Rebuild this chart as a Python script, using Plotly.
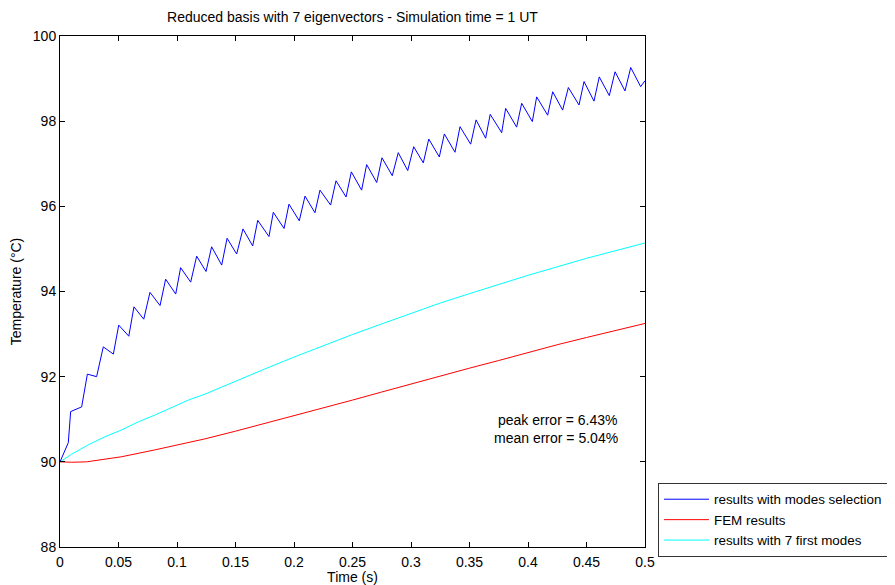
import plotly.graph_objects as go

# ---- data ----
# blue: results with modes selection (start, early rise, then peak/trough sequence)
blue_t = [0.0, 0.0071, 0.0091, 0.0185, 0.0234, 0.0313, 0.0370, 0.0456, 0.0502, 0.0588,
          0.0632, 0.0716, 0.0769, 0.0855, 0.0903, 0.0989, 0.1031, 0.1117, 0.1168, 0.1248,
          0.1296, 0.1382, 0.1428, 0.1510, 0.1564, 0.1647, 0.1690, 0.1786, 0.1823, 0.1915,
          0.1957, 0.2045, 0.2094, 0.2179, 0.2222, 0.2313, 0.2359, 0.2445, 0.2490, 0.2578,
          0.2621, 0.2707, 0.2752, 0.2840, 0.2891, 0.2972, 0.3023, 0.3105, 0.3152, 0.3242,
          0.3285, 0.3376, 0.3419, 0.3510, 0.3556, 0.3638, 0.3677, 0.3775, 0.3809, 0.3903,
          0.3946, 0.4037, 0.4074, 0.4168, 0.4211, 0.4296, 0.4345, 0.4436, 0.4479, 0.4564,
          0.4609, 0.4695, 0.4744, 0.4829, 0.4878, 0.4963, 0.5000]
blue_T = [90.00, 90.45, 91.18, 91.29, 92.06, 92.00, 92.70, 92.53, 93.21, 92.95,
          93.64, 93.35, 93.98, 93.67, 94.29, 93.94, 94.56, 94.22, 94.83, 94.47,
          95.05, 94.62, 95.25, 94.88, 95.47, 95.07, 95.67, 95.29, 95.86, 95.48,
          96.05, 95.66, 96.24, 95.85, 96.38, 96.03, 96.60, 96.22, 96.81, 96.38,
          96.98, 96.56, 97.14, 96.72, 97.26, 96.84, 97.40, 97.02, 97.58, 97.16,
          97.70, 97.27, 97.87, 97.46, 98.03, 97.60, 98.16, 97.73, 98.30, 97.86,
          98.42, 97.99, 98.57, 98.14, 98.69, 98.26, 98.79, 98.38, 98.93, 98.47,
          99.04, 98.60, 99.16, 98.71, 99.26, 98.81, 98.95]

# red: FEM results
fem_t = [0.0, 0.0100, 0.0228, 0.0527, 0.0810, 0.1097, 0.1240, 0.150, 0.175, 0.200,
         0.225, 0.250, 0.275, 0.300, 0.325, 0.350, 0.375, 0.400, 0.425, 0.450,
         0.475, 0.500]
fem_T = [90.00, 89.99, 90.00, 90.12, 90.28, 90.45, 90.54, 90.72, 90.90, 91.08,
         91.26, 91.45, 91.64, 91.83, 92.02, 92.20, 92.38, 92.57, 92.75, 92.92,
         93.09, 93.25]

# cyan: results with 7 first modes
first_t = [0.0, 0.0100, 0.0242, 0.0385, 0.0527, 0.0670, 0.0812, 0.0955, 0.1097, 0.1239,
           0.150, 0.175, 0.200, 0.225, 0.250, 0.275, 0.300, 0.325, 0.350, 0.375,
           0.400, 0.425, 0.450, 0.475, 0.500]
first_T = [90.00, 90.18, 90.40, 90.59, 90.75, 90.94, 91.10, 91.28, 91.45, 91.59,
           91.90, 92.18, 92.46, 92.73, 92.99, 93.24, 93.49, 93.73, 93.95, 94.17,
           94.38, 94.58, 94.78, 94.96, 95.14]

x_ticks = [0, 0.05, 0.1, 0.15, 0.2, 0.25, 0.3, 0.35, 0.4, 0.45, 0.5]
x_labels = ["0", "0.05", "0.1", "0.15", "0.2", "0.25", "0.3", "0.35", "0.4", "0.45", "0.5"]
y_ticks = [88, 90, 92, 94, 96, 98, 100]

FONT = "Liberation Sans, Arial, sans-serif"
FS = 14

fig = go.Figure()
fig.add_trace(go.Scatter(x=blue_t, y=blue_T, mode="lines", name="results with modes selection",
                         line=dict(color="#0000FF", width=1)))
fig.add_trace(go.Scatter(x=fem_t, y=fem_T, mode="lines", name="FEM results",
                         line=dict(color="#FF0000", width=1)))
fig.add_trace(go.Scatter(x=first_t, y=first_T, mode="lines", name="results with 7 first modes",
                         line=dict(color="#00FFFF", width=1)))

axis_common = dict(showline=True, linecolor="#000000", linewidth=1, mirror="allticks",
                   ticks="inside", ticklen=5, tickcolor="#000000", showgrid=False,
                   zeroline=False, tickfont=dict(family=FONT, size=FS, color="#000000"))

fig.update_xaxes(range=[0, 0.5], tickvals=x_ticks, ticktext=x_labels, ticklabelstandoff=2,
                 title=dict(text="Time (s)", font=dict(family=FONT, size=FS, color="#000000"),
                            standoff=1),
                 **axis_common)
fig.update_yaxes(range=[88, 100], tickvals=y_ticks,
                 title=dict(text="Temperature (°C)", font=dict(family=FONT, size=FS, color="#000000"),
                            standoff=11),
                 **axis_common)

fig.add_annotation(xref="paper", yref="paper", x=0.956, y=0.2485, xanchor="right", yanchor="middle",
                   text="peak error = 6.43%", showarrow=False,
                   font=dict(family=FONT, size=FS, color="#000000"))
fig.add_annotation(xref="paper", yref="paper", x=0.958, y=0.2130, xanchor="right", yanchor="middle",
                   text="mean error = 5.04%", showarrow=False,
                   font=dict(family=FONT, size=FS, color="#000000"))

# page body has an 8px margin, so the figure is 887x577 placed at (8, 8)
fig.update_layout(
    width=887, height=577,
    margin=dict(l=52, r=250, t=28, b=38, autoexpand=False),
    paper_bgcolor="#FFFFFF", plot_bgcolor="#FFFFFF",
    title=dict(text="Reduced basis with 7 eigenvectors - Simulation time = 1 UT",
               x=0.3884, xanchor="center", y=0.984, yanchor="middle",
               font=dict(family=FONT, size=FS, color="#000000")),
    font=dict(family=FONT, size=FS, color="#000000"),
    legend=dict(x=1.0222, xanchor="left", y=0.1252, yanchor="top",
                bordercolor="#333333", borderwidth=1, bgcolor="#FFFFFF",
                itemwidth=45, tracegroupgap=0,
                font=dict(family=FONT, size=13.4, color="#000000")),
    showlegend=True,
)

fig.write_html("out.html")
